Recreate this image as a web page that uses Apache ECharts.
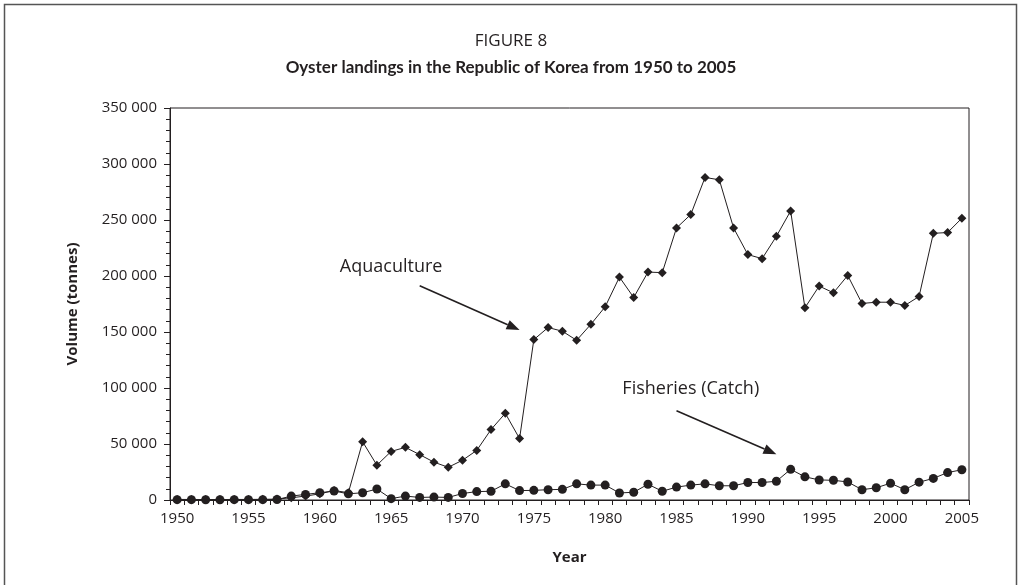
<!DOCTYPE html>
<html>
<head>
<meta charset="utf-8">
<script src="https://cdn.jsdelivr.net/npm/echarts@6/dist/echarts.min.js"></script>
<style>
html,body{margin:0;padding:0;background:#fff;}
#chart{width:1022px;height:585px;}
</style>
</head>
<body>
<div id="chart"></div>
<script>
// ---- data ----
var years = [];
for (var y = 1950; y <= 2005; y++) years.push(String(y));

var aquaculture = [
  500, 500, 400, 400, 500, 500, 600, 800, 2000, 3500,
  5500, 8500, 6500, 52000, 31100, 43400, 47000, 40500, 33800, 29200,
  35500, 44300, 62900, 77400, 54800, 143200, 154000, 150700, 142600, 156900,
  172500, 199000, 180800, 203500, 203000, 242900, 254900, 288000, 285900, 242900,
  219100, 215500, 235400, 258100, 171600, 191000, 185000, 200500, 175500, 176600,
  176600, 173700, 181700, 238100, 238800, 251600
];

var fisheries = [
  300, 300, 200, 200, 300, 300, 300, 400, 3500, 5000,
  6500, 8000, 5500, 6500, 9800, 1200, 3500, 2300, 2600, 2300,
  5800, 7500, 7800, 14400, 8400, 8600, 9200, 9500, 14400, 13300,
  13300, 6300, 6900, 14100, 7800, 11500, 13300, 14400, 12700, 12700,
  15600, 15600, 16700, 27400, 20700, 17900, 17600, 16100, 9200, 10900,
  15000, 9200, 15900, 19300, 24500, 27000
];

var titleText = 'FIGURE 8';
var subtitleText = 'Oyster landings in the Republic of Korea from 1950 to 2005';
var yAxisName = 'Volume (tonnes)';
var xAxisName = 'Year';
// annotation anchors in data space: [category index, value]
var aquaLabel = {text: 'Aquaculture', at: [14.6, 208000]};
var aquaArrow = [[17.0, 191300], [23.9, 151800]];
var fishLabel = {text: 'Fisheries (Catch)', at: [36.1, 98800]};
var fishArrow = [[35.1, 79700], [42.06, 40800]];

var INK = '#231f20';
var FONT = '"Open Sans", "Noto Sans", sans-serif';
var TFONT = 'Lato, "Open Sans", sans-serif';

var chart = echarts.init(document.getElementById('chart'));

function fmt(v) {
  return String(v).replace(/\B(?=(\d{3})+(?!\d))/g, ' ');
}

var option = {
  backgroundColor: '#fff',
  animation: false,
  textStyle: {fontFamily: FONT, color: INK},
  title: [
    {text: titleText, left: 'center', top: 28,
     textStyle: {fontFamily: FONT, fontSize: 17, fontWeight: 'normal', color: INK}},
    {text: subtitleText, left: 'center', top: 54,
     textStyle: {fontFamily: TFONT, fontSize: 17, fontWeight: 'bold', color: INK}}
  ],
  grid: {left: 170, right: 53, top: 108, bottom: 85, show: true,
         borderColor: INK, borderWidth: 1, backgroundColor: 'transparent'},
  xAxis: {
    type: 'category',
    data: years,
    boundaryGap: true,
    name: xAxisName,
    nameLocation: 'middle',
    nameGap: 50,
    nameTextStyle: {fontFamily: FONT, fontSize: 15, fontWeight: 'bold', color: INK},
    axisLine: {lineStyle: {color: INK, width: 1}},
    axisTick: {show: true, interval: 0, length: 5, lineStyle: {color: INK}},
    axisLabel: {interval: 4, fontFamily: FONT, fontSize: 15, color: INK, margin: 11},
    splitLine: {show: false}
  },
  yAxis: {
    type: 'value',
    min: 0, max: 350000, interval: 50000,
    name: yAxisName,
    nameLocation: 'middle',
    nameGap: 90,
    nameRotate: 90,
    nameTextStyle: {fontFamily: FONT, fontSize: 15, fontWeight: 'bold', color: INK},
    axisLine: {show: true, lineStyle: {color: INK, width: 1}},
    axisTick: {show: true, length: 6, lineStyle: {color: INK}},
    minorTick: {show: true, splitNumber: 5, length: 4, lineStyle: {color: INK}},
    axisLabel: {fontFamily: FONT, fontSize: 15, color: INK, margin: 13, formatter: fmt},
    splitLine: {show: false}
  },
  series: [
    {name: 'Aquaculture', type: 'line', data: aquaculture,
     symbol: 'diamond', symbolSize: 9, showAllSymbol: true,
     lineStyle: {color: INK, width: 1}, itemStyle: {color: INK}},
    {name: 'Fisheries (Catch)', type: 'line', data: fisheries,
     symbol: 'circle', symbolSize: 9, showAllSymbol: true,
     lineStyle: {color: INK, width: 1}, itemStyle: {color: INK}}
  ]
};
chart.setOption(option);

function px(p) { return chart.convertToPixel({gridIndex: 0}, p); }
function arrow(a, b) {
  var p0 = px(a), p1 = px(b);
  var dx = p1[0] - p0[0], dy = p1[1] - p0[1];
  var L = Math.sqrt(dx * dx + dy * dy), ux = dx / L, uy = dy / L;
  var hl = 13, hw = 5;
  var bx = p1[0] - ux * hl, by = p1[1] - uy * hl;
  return [
    {type: 'line', shape: {x1: p0[0], y1: p0[1], x2: bx, y2: by},
     style: {stroke: INK, lineWidth: 1.6}, z: 10},
    {type: 'polygon', shape: {points: [[p1[0], p1[1]],
      [bx - uy * hw, by + ux * hw], [bx + uy * hw, by - ux * hw]]},
     style: {fill: INK}, z: 10}
  ];
}
function label(l) {
  var p = px(l.at);
  return {type: 'text', x: p[0], y: p[1], z: 10,
    style: {text: l.text, fill: INK, font: '18px ' + FONT, textAlign: 'center', textVerticalAlign: 'middle'}};
}
var g = [
  {type: 'rect', shape: {x: 4.5, y: 4.5, width: 1012, height: 620},
   style: {fill: 'none', stroke: '#555', lineWidth: 1.5}, z: 0, silent: true},
  label(aquaLabel), label(fishLabel)
].concat(arrow(aquaArrow[0], aquaArrow[1])).concat(arrow(fishArrow[0], fishArrow[1]));
chart.setOption({graphic: g});
</script>
</body>
</html>
